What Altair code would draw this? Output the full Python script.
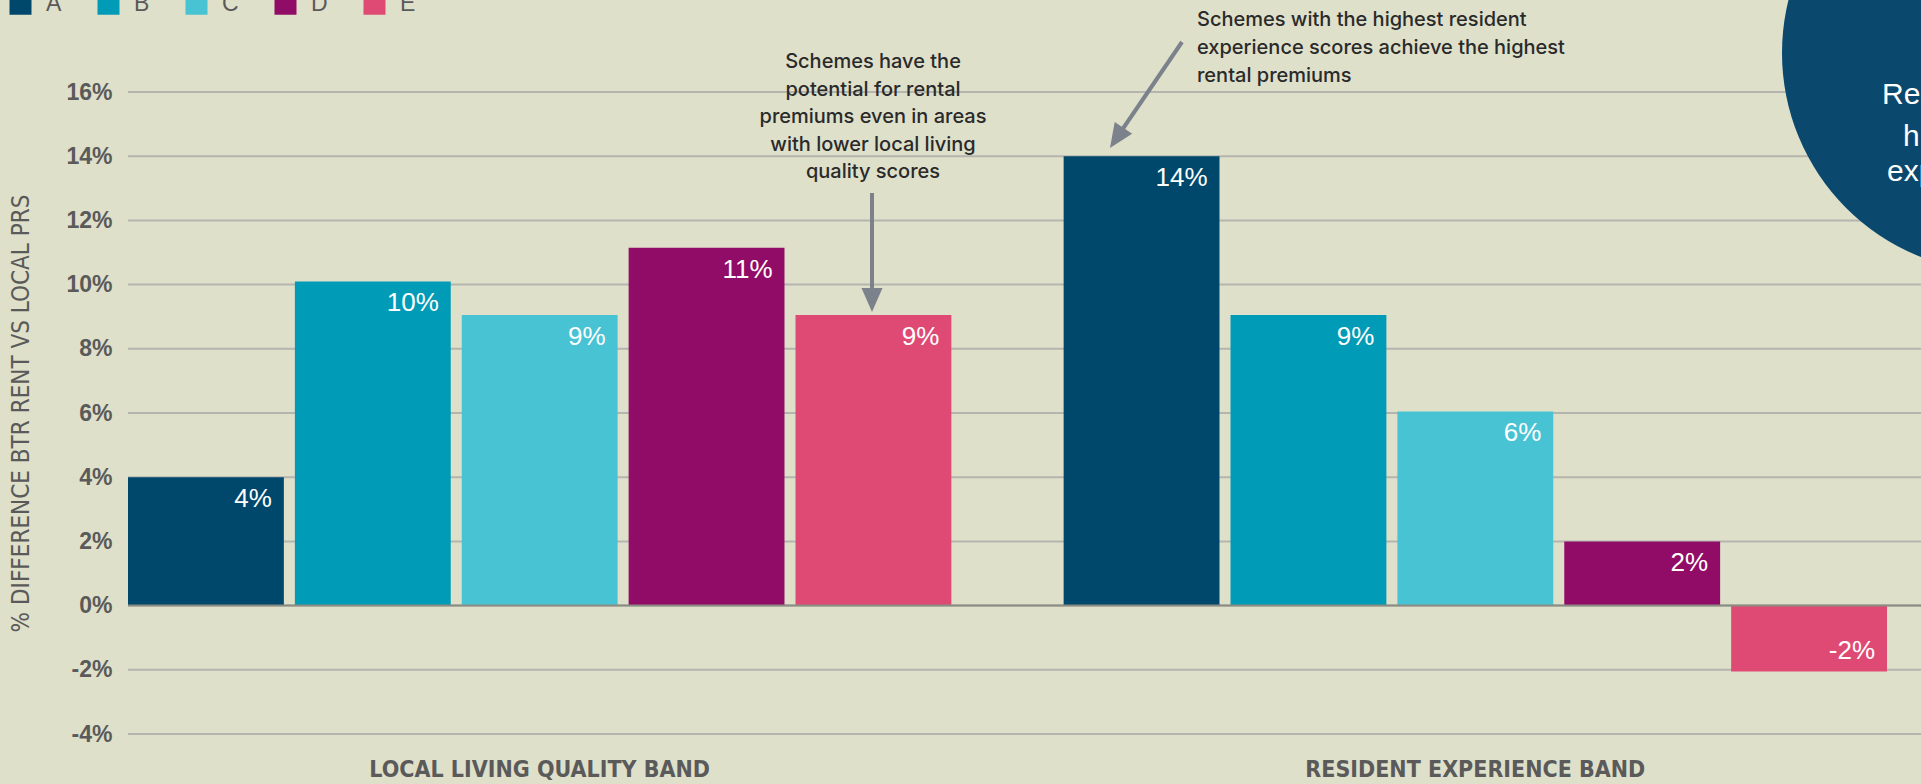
import altair as alt
import pandas as pd

# ---- data ----
group_order = ["LOCAL LIVING QUALITY BAND", "RESIDENT EXPERIENCE BAND"]
series_order = ["A", "B", "C", "D", "E"]
groups = [group_order[0]] * 5 + [group_order[1]] * 5
series = series_order * 2
values = [4.0, 10.1, 9.05, 11.15, 9.05, 14.0, 9.05, 6.05, 2.0, -2.05]
labels = ["4%", "10%", "9%", "11%", "9%", "14%", "9%", "6%", "2%", "-2%"]
colors = ["#00486b", "#009bb6", "#48c3d3", "#910c66", "#df4a75"]
y_ticks = [-4, -2, 0, 2, 4, 6, 8, 10, 12, 14, 16]

note1 = "Schemes have the\npotential for rental\npremiums even in areas\nwith lower local living\nquality scores"
note2 = "Schemes with the highest resident\nexperience scores achieve the highest\nrental premiums"
circle_lines = ["Residents with", "higher", "experience"]

df = pd.DataFrame({"group": groups, "series": series, "value": values, "label": labels})

BG = "#dfe0ca"
GREY = "#5a5a5a"
NARROW = "Liberation Sans Narrow, DejaVu Sans Condensed, Arial Narrow, sans-serif"
SANS = "Liberation Sans, Arial, Helvetica, sans-serif"
NOTE = "Inter, Liberation Sans, Arial, sans-serif"
ARROW = "#7c828b"

x_enc = alt.X(
    "group:N", sort=group_order,
    scale=alt.Scale(range=[0, 1759], paddingInner=0.12, paddingOuter=0),
    axis=alt.Axis(title=None, labelAngle=0, domain=False, ticks=False, grid=False,
                  labelPadding=24, labelFontSize=23, labelFont=NARROW, labelLimit=0,
                  labelFontWeight="bold", labelColor=GREY),
)
xo_enc = alt.XOffset("series:N", sort=series_order,
                     scale=alt.Scale(paddingInner=0.066, paddingOuter=0))
y_enc = alt.Y(
    "value:Q",
    scale=alt.Scale(domain=[-4, 16], nice=False, zero=False),
    axis=alt.Axis(values=y_ticks, labelExpr="datum.value + '%'",
                  title="% DIFFERENCE BTR RENT VS LOCAL PRS",
                  titleFont=NARROW, titleFontSize=24, titleFontWeight=500,
                  titleColor=GREY, titleX=-107, titleY=321, titleAngle=-90,
                  titleAlign="center", titleBaseline="middle",
                  grid=False, domain=False, ticks=False, labelPadding=16,
                  labelFont=SANS, labelFontSize=23, labelFontWeight="bold",
                  labelColor=GREY),
)

base = alt.Chart(df)

grid = alt.Chart(pd.DataFrame({"value": y_ticks})).mark_rule(
    color="#b4b5ae", strokeWidth=2
).encode(y=y_enc, x=alt.value(0), x2=alt.value(1793))

bars = base.mark_bar().encode(
    x=x_enc, xOffset=xo_enc, y=y_enc,
    color=alt.Color("series:N", sort=series_order,
                    scale=alt.Scale(domain=series_order, range=colors),
                    legend=alt.Legend(title=None, orient="none", direction="horizontal",
                                      legendX=-119, legendY=-100, padding=0,
                                      symbolType="square", symbolSize=484,
                                      symbolStrokeWidth=0, symbolOpacity=1,
                                      labelFontSize=23, labelFont=SANS,
                                      labelColor=GREY, labelOffset=14,
                                      columnPadding=35)),
)

zero = alt.Chart(pd.DataFrame({"value": [0]})).mark_rule(color="#8b8c82", strokeWidth=2).encode(
    y=y_enc, x=alt.value(0), x2=alt.value(1793)
)

pos_lab = base.transform_filter("datum.value >= 0").mark_text(
    align="right", baseline="alphabetic", dx=66, dy=30, color="white",
    fontSize=26, font=SANS
).encode(x=x_enc, xOffset=xo_enc, y=y_enc, text="label:N")

neg_lab = base.transform_filter("datum.value < 0").mark_text(
    align="right", baseline="alphabetic", dx=66, dy=-12, color="white",
    fontSize=26, font=SANS
).encode(x=x_enc, xOffset=xo_enc, y=y_enc, text="label:N")

one = pd.DataFrame({"k": [1]})

n1 = alt.Chart(one).mark_text(
    text=note1, lineBreak="\n", lineHeight=27.5, align="center", baseline="top",
    fontSize=20, font=NOTE, color="#2a2a2a", fontWeight=500
).encode(x=alt.value(745), y=alt.value(-40))

n2 = alt.Chart(one).mark_text(
    text=note2, lineBreak="\n", lineHeight=28, align="left", baseline="top",
    fontSize=20, font=NOTE, color="#2a2a2a", fontWeight=500
).encode(x=alt.value(1069), y=alt.value(-82))

a1_line = alt.Chart(one).mark_rule(color=ARROW, strokeWidth=4).encode(
    x=alt.value(744), y=alt.value(101), y2=alt.value(198)
)
head = "M-1,-1.15L1,-1.15L0,1.15Z"
a1_head = alt.Chart(one).mark_point(shape=head, filled=True, size=441, color=ARROW,
                                    opacity=1, strokeWidth=0).encode(
    x=alt.value(744), y=alt.value(208)
)
a2_line = alt.Chart(one).mark_rule(color=ARROW, strokeWidth=4).encode(
    x=alt.value(1054), y=alt.value(-50), x2=alt.value(994), y2=alt.value(38)
)
a2_head = alt.Chart(one).mark_point(shape=head, filled=True, size=441, color=ARROW,
                                    opacity=1, strokeWidth=0, angle=34).encode(
    x=alt.value(988.7), y=alt.value(46)
)

circle = alt.Chart(one).mark_point(shape="circle", filled=True, size=191844,
                                   color="#0b486e", opacity=1, strokeWidth=0).encode(
    x=alt.value(1873), y=alt.value(-39)
)
ctext = alt.Chart(pd.DataFrame({"t": circle_lines, "xx": [1754, 1775, 1759],
                                "yy": [3, 45, 80]})).mark_text(
    align="left", baseline="middle", fontSize=30, font=SANS, color="white"
).encode(x=alt.X("xx:Q", scale=None), y=alt.Y("yy:Q", scale=None), text="t:N")

chart = alt.layer(
    grid, bars, zero, pos_lab, neg_lab, n1, n2, a1_line, a1_head, a2_line, a2_head, circle, ctext
).properties(
    width=1793, height=642,
    autosize=alt.AutoSizeParams(type="none"),
    padding={"left": 128, "top": 92, "right": 0, "bottom": 50},
    background=BG,
).configure_view(stroke=None)

chart.save("out.html", embed_options={"renderer": "svg", "actions": False})
